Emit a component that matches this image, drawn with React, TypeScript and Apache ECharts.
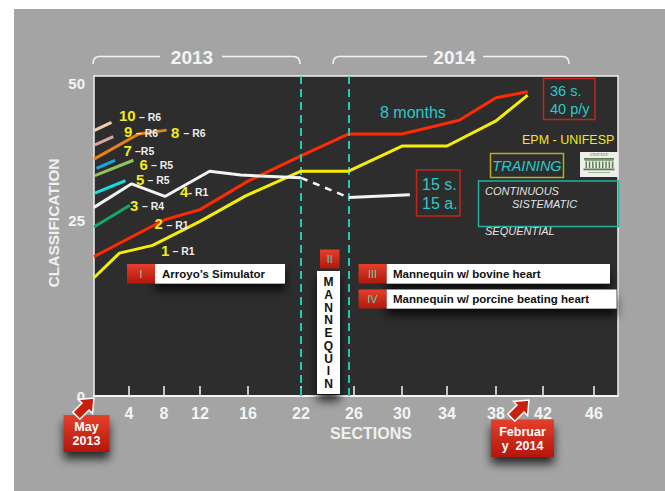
import React, { useEffect, useRef } from "react";
import * as echarts from "echarts";

// ---- axis ticks (tick labels) ----
const X_TICKS = [0, 4, 8, 12, 16, 22, 26, 30, 34, 38, 42, 46];
const Y_TICKS = [0, 25, 50];

// ---- series values: sections (x) and classification (y) ----
const redSections = [0, 8, 12, 16, 22, 25.6, 30, 35, 38, 40.7];
const redScores = [19.8, 25, 26.9, 32.1, 36.7, 40.7, 40.7, 43.2, 47.3, 48.4];

const yellowSections = [0, 2.9, 6.7, 12, 15.8, 22, 25.6, 30, 34, 38, 40.7];
const yellowScores = [16.8, 20.3, 21.4, 24.8, 29.4, 33.9, 33.9, 38.5, 38.5, 43.1, 47.8];

const whiteSections = [0, 4.3, 8.1, 12.8, 15.4, 22];
const whiteScores = [27.3, 31.6, 29.3, 33.9, 33.2, 32.7];
const whiteGapSections = [22, 25.6];
const whiteGapScores = [32.7, 29.1];
const whiteLateSections = [25.6, 30.7];
const whiteLateScores = [29.1, 29.6];

const peachSections = [0, 2];
const peachScores = [41.3, 42.8];
const pinkSections = [0.1, 2.2];
const pinkScores = [38.7, 40.2];
const orangeSections = [0, 5.1, 8.3];
const orangeScores = [36.1, 40.7, 41.4];
const blueSections = [0.3, 2.4];
const blueScores = [34.4, 35.9];
const lightGreenSections = [0.1, 4.5];
const lightGreenScores = [33.1, 35.9];
const cyanSections = [0.1, 3.6];
const cyanScores = [29.9, 32.2];
const greenSections = [0, 4.1];
const greenScores = [24.0, 27.7];

const phaseBoundaries = [22, 25.6];

// ---- layout of the hand-drawn (non-linear) axes ----
const X_TICK_OFFSETS = [0, 35, 70, 106, 154, 207, 260, 308, 353, 402, 449, 500];
const Y_TICK_OFFSETS = [0, 176, 313];

function interp(v: number, from: number[], to: number[]) {
  let i = 0;
  while (i < from.length - 2 && v > from[i + 1]) i++;
  const t = (v - from[i]) / (from[i + 1] - from[i]);
  return to[i] + t * (to[i + 1] - to[i]);
}
const toX = (s: number) => interp(s, X_TICKS, X_TICK_OFFSETS);
const toY = (c: number) => interp(c, Y_TICKS, Y_TICK_OFFSETS);
const pts = (xs: number[], ys: number[]) => xs.map((x, i) => [toX(x), toY(ys[i])]);
const nearestLabel = (v: number, ticks: number[], offs: number[]) => {
  let best = 0;
  offs.forEach((o, i) => {
    if (Math.abs(o - v) < Math.abs(offs[best] - v)) best = i;
  });
  return String(ticks[best]);
};

const FONT = '"Liberation Sans", Arial, sans-serif';
const CYAN = "#2cc9cc";
const YEL = "#f2ea1c";

function txt(text: string, x: number, y: number, size: number, fill: string, opts: any = {}) {
  return {
    type: "text",
    x,
    y,
    z: 20,
    rotation: opts.rotation || 0,
    style: {
      text,
      fill,
      fontSize: size,
      fontWeight: opts.weight || "normal",
      fontStyle: opts.style || "normal",
      fontFamily: opts.family || FONT,
      align: opts.align || "left",
      verticalAlign: "middle",
    },
  };
}

function rect(x: number, y: number, w: number, h: number, style: any, z = 15) {
  return { type: "rect", z, shape: { x, y, width: w, height: h }, style };
}

const redGrad = {
  type: "linear",
  x: 0,
  y: 0,
  x2: 0,
  y2: 1,
  colorStops: [
    { offset: 0, color: "#e4402c" },
    { offset: 1, color: "#b3170c" },
  ],
};

const shadow = {
  shadowBlur: 10,
  shadowOffsetX: 0,
  shadowOffsetY: 7,
  shadowColor: "rgba(0,0,0,0.75)",
};

function arrow(tx: number, ty: number) {
  const d = [Math.SQRT1_2, -Math.SQRT1_2];
  const n = [Math.SQRT1_2, Math.SQRT1_2];
  const len = 25,
    hl = 12,
    hh = 10,
    sh = 5;
  const B = [tx - d[0] * hl, ty - d[1] * hl];
  const E = [tx - d[0] * len, ty - d[1] * len];
  const p = (P: number[], k: number) => [P[0] + n[0] * k, P[1] + n[1] * k];
  return {
    type: "polygon",
    z: 16,
    shape: {
      points: [[tx, ty], p(B, hh), p(B, sh), p(E, sh), p(E, -sh), p(B, -sh), p(B, -hh)],
    },
    style: { fill: "#c8200f", stroke: "#ffffff", lineWidth: 1.5 },
  };
}

function bracket(x1: number, xa: number, xb: number, x2: number) {
  const y = 56.5,
    yb = 64,
    s = { stroke: "#f2f2f2", lineWidth: 1.6, fill: "none" };
  return [
    {
      type: "polyline",
      z: 20,
      shape: { points: [[x1, yb], [x1 + 0.6, 60], [x1 + 2.5, 57.5], [x1 + 6, y], [xa, y]] },
      style: s,
    },
    {
      type: "polyline",
      z: 20,
      shape: { points: [[xb, y], [x2 - 6, y], [x2 - 2.5, 57.5], [x2 - 0.6, 60], [x2, yb]] },
      style: s,
    },
  ];
}

const lineLabels: [string, number, number, string, number][] = [
  ["10", 119, 115.5, "– R6", 139],
  ["9", 124, 131.5, "– R6", 136],
  ["8", 171, 132, "– R6", 183.5],
  ["7", 123.5, 150, "–R5", 135],
  ["6", 139.5, 164, "– R5", 151],
  ["5", 136, 179, "– R5", 147.5],
  ["4", 180, 191, "- R1", 188.5],
  ["3", 130, 205, "– R4", 142],
  ["2", 154.5, 223.5, "– R1", 166.5],
  ["1", 161, 250, "– R1", 172.5],
];

const MANNEQUIN = "MANNEQUIN".split("");

export default function App() {
  const ref = useRef<HTMLDivElement>(null);
  useEffect(() => {
    if (!ref.current) return;
    const chart = echarts.init(ref.current, undefined, { renderer: "svg" });

    const lineSeries = (name: string, data: number[][], color: string, width = 3, extra: any = {}) => ({
      name,
      type: "line",
      data,
      showSymbol: false,
      symbol: "none",
      lineStyle: { color, width, ...(extra.lineStyle || {}) },
      z: extra.z || 3,
      ...(extra.rest || {}),
    });

    const GREEN = "#5d7f55";
    const columns = Array.from({ length: 9 }, (_, i) =>
      rect(585.5 + i * 3.3, 161.5, 1.5, 6.5, { fill: GREEN }, 16)
    );

    const graphic: any[] = [
      // white page margins
      rect(0, 0, 665, 9, { fill: "#ffffff" }, 1),
      rect(0, 0, 14, 491, { fill: "#ffffff" }, 1),
      // year brackets
      ...bracket(93, 160, 222, 300),
      ...bracket(333, 427, 483, 569),
      txt("2013", 192, 57.5, 19, "#f4f4f4", { weight: "bold", align: "center" }),
      txt("2014", 454.5, 57.5, 19, "#f4f4f4", { weight: "bold", align: "center" }),
      // axis titles
      txt("CLASSIFICATION", 53, 223, 15.5, "#f0f0f0", { weight: "bold", align: "center", rotation: Math.PI / 2 }),
      txt("SECTIONS", 371, 433, 16, "#f0f0f0", { weight: "bold", align: "center" }),
      // phase boxes
      rect(155, 264, 130, 19.5, { fill: "#ffffff", ...shadow }),
      rect(127, 264, 28, 19.5, { fill: redGrad }),
      txt("I", 141, 274, 11, "#55d8a8", { align: "center" }),
      txt("Arroyo’s Simulator", 162, 274, 11.5, "#111111", { weight: "bold" }),
      rect(320, 249.5, 19.5, 19, { fill: redGrad }),
      txt("II", 329.7, 259, 11, "#55d8a8", { align: "center" }),
      rect(317, 271, 23, 123, { fill: "#ffffff", ...shadow }),
      ...MANNEQUIN.map((c, i) => txt(c, 328.5, 282 + i * 12.75, 12, "#111111", { weight: "bold", align: "center" })),
      rect(386.5, 264, 223.5, 19.5, { fill: "#ffffff", ...shadow }),
      rect(358.5, 264, 28, 19.5, { fill: redGrad }),
      txt("III", 372.5, 274, 11, "#55d8a8", { align: "center" }),
      txt("Mannequin w/ bovine heart", 393, 274, 11.5, "#111111", { weight: "bold" }),
      rect(386.5, 289.5, 230, 19, { fill: "#ffffff", ...shadow }),
      rect(358.5, 289.5, 28, 19, { fill: redGrad }),
      txt("IV", 372.5, 299, 11, "#55d8a8", { align: "center" }),
      txt("Mannequin w/ porcine beating heart", 393, 299, 11.5, "#111111", { weight: "bold" }),
      // outcome boxes
      rect(416.5, 170, 43.5, 46, { fill: "none", stroke: "#c2281a", lineWidth: 1.5 }),
      txt("15 s.", 422, 184.5, 16, CYAN),
      txt("15 a.", 422, 203, 16, CYAN),
      rect(543.5, 78.5, 51.5, 41, { fill: "none", stroke: "#c2281a", lineWidth: 1.5 }),
      txt("36 s.", 550, 91, 14.5, CYAN),
      txt("40 p/y", 550, 108.5, 14.5, CYAN),
      txt("8 months", 380, 112, 16, CYAN),
      txt("EPM - UNIFESP", 522, 139.5, 12.5, YEL),
      rect(490.5, 153.5, 73, 24, { fill: "none", stroke: "#b8aa28", lineWidth: 1.5 }),
      txt("TRAINING", 527, 166, 14.5, CYAN, { style: "italic", align: "center" }),
      // logo
      rect(580, 152, 38, 25, { fill: "#eeeeeb" }),
      txt("UNIFESP", 599, 154.8, 4.5, GREEN, { align: "center", family: '"Liberation Serif", serif' }),
      rect(584, 158, 30, 1.8, { fill: GREEN }, 16),
      rect(584.5, 160, 29, 1, { fill: "#8aa482" }, 16),
      ...columns,
      rect(583.5, 168.5, 31, 1.8, { fill: GREEN }, 16),
      rect(588, 172, 22, 0.8, { fill: "#8aa482" }, 16),
      rect(478.5, 181, 140, 45.5, { fill: "none", stroke: "#22b0a0", lineWidth: 1.5 }),
      txt("CONTINUOUS", 485, 191, 11, "#e2e2e2", { style: "italic" }),
      txt("SISTEMATIC", 512, 204, 11, "#e2e2e2", { style: "italic" }),
      txt("SEQUENTIAL", 485, 230.5, 11, "#e2e2e2", { style: "italic" }),
      // date boxes and arrows
      arrow(94, 398),
      rect(63.5, 415, 46, 37, { fill: redGrad, ...shadow }),
      txt("May", 86.5, 427, 12.5, "#ffffff", { weight: "bold", align: "center" }),
      txt("2013", 86.5, 441, 12.5, "#ffffff", { weight: "bold", align: "center" }),
      arrow(529, 400),
      rect(491, 419.5, 63, 37.5, { fill: redGrad, ...shadow }),
      txt("Februar", 522.5, 432, 12.5, "#ffffff", { weight: "bold", align: "center" }),
      txt("y  2014", 522.5, 446, 12.5, "#ffffff", { weight: "bold", align: "center" }),
    ];
    lineLabels.forEach(([n, x, y, r, x2]) => {
      graphic.push(txt(n, x, y, 15, YEL, { weight: "bold" }));
      graphic.push(txt(r, x2, y + 1, 10.5, "#ececec", { weight: "bold" }));
    });

    chart.setOption({
      animation: false,
      backgroundColor: "#a4a4a4",
      grid: {
        left: 94,
        top: 76,
        width: 524,
        height: 320,
        show: true,
        backgroundColor: "#2d2d2d",
        borderColor: "#f0f0f0",
        borderWidth: 1.5,
        containLabel: false,
        outerBoundsMode: "none",
      },
      xAxis: {
        type: "value",
        min: 0,
        max: 524,
        axisLine: { show: true, onZero: false, lineStyle: { color: "#f4f4f4", width: 2 } },
        axisTick: {
          show: true,
          inside: true,
          length: 10,
          customValues: X_TICKS.slice(1).map(toX),
          lineStyle: { color: "#f4f4f4", width: 1.5 },
        },
        axisLabel: {
          customValues: X_TICKS.slice(1).map(toX),
          formatter: (v: number) => nearestLabel(v, X_TICKS, X_TICK_OFFSETS),
          color: "#f4f4f4",
          fontSize: 16,
          fontWeight: "bold",
          fontFamily: FONT,
          margin: 9,
        },
        splitLine: { show: false },
      },
      yAxis: {
        type: "value",
        min: 0,
        max: 320,
        axisLine: { show: false },
        axisTick: { show: false },
        splitLine: { show: false },
        axisLabel: {
          customValues: Y_TICKS.map(toY),
          formatter: (v: number) => nearestLabel(v, Y_TICKS, Y_TICK_OFFSETS),
          color: "#f4f4f4",
          fontSize: 15,
          fontWeight: "bold",
          fontFamily: FONT,
          margin: 9,
        },
      },
      series: [
        lineSeries("peach", pts(peachSections, peachScores), "#f3ccb0"),
        lineSeries("pink", pts(pinkSections, pinkScores), "#d7a6a0"),
        lineSeries("orange", pts(orangeSections, orangeScores), "#e5801e"),
        lineSeries("blue", pts(blueSections, blueScores), "#1aa7e6"),
        lineSeries("lightgreen", pts(lightGreenSections, lightGreenScores), "#8fc45a"),
        lineSeries("cyan", pts(cyanSections, cyanScores), "#12e0e0"),
        lineSeries("green", pts(greenSections, greenScores), "#14a86a"),
        lineSeries("red", pts(redSections, redScores), "#ff2a00", 3, {
          z: 4,
          rest: {
            markLine: {
              silent: true,
              symbol: "none",
              label: { show: false },
              lineStyle: { color: "#1fc9b2", width: 2, type: [8, 5] },
              data: phaseBoundaries.map((s) => ({ xAxis: toX(s) })),
            },
          },
        }),
        lineSeries("yellow", pts(yellowSections, yellowScores), "#f5ee00", 3, { z: 5 }),
        lineSeries("white", pts(whiteSections, whiteScores), "#f4f4f4", 3, { z: 6 }),
        lineSeries("whiteGap", pts(whiteGapSections, whiteGapScores), "#f4f4f4", 2.5, {
          z: 6,
          lineStyle: { type: [7, 6] },
        }),
        lineSeries("whiteLate", pts(whiteLateSections, whiteLateScores), "#f4f4f4", 3, { z: 6 }),
      ],
      graphic,
    });
    return () => chart.dispose();
  }, []);
  return <div ref={ref} style={{ position: "fixed", left: 0, top: 0, width: 665, height: 491 }} />;
}
